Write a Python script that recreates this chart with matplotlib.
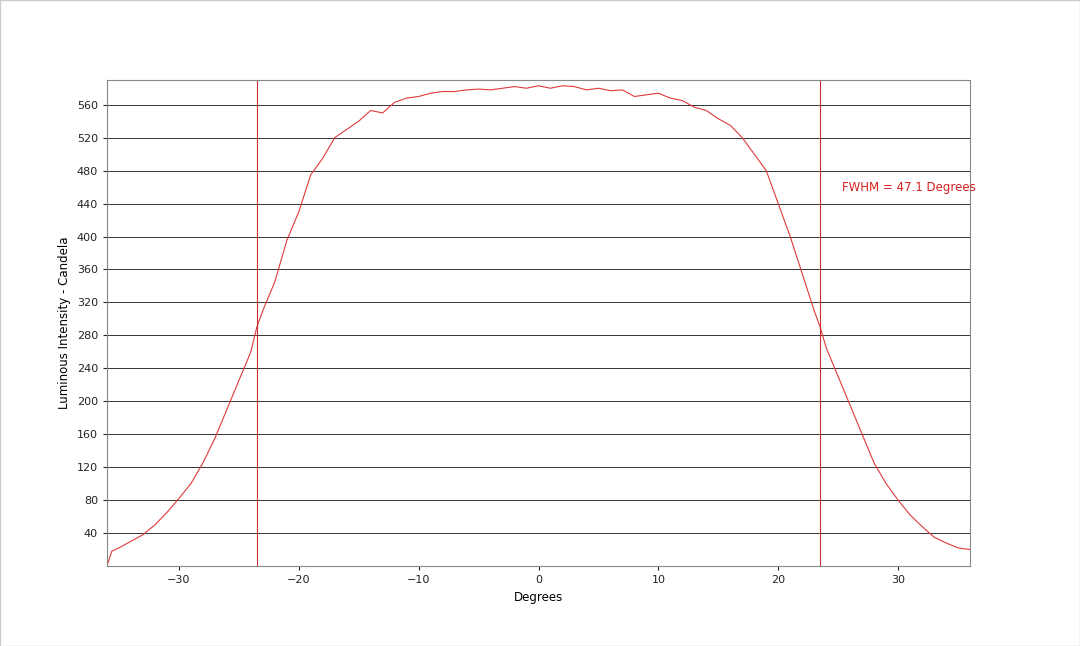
import matplotlib
matplotlib.use("Agg")
import matplotlib.pyplot as plt

deg = [-36, -35.6, -35, -34, -33, -32, -31, -30, -29, -28, -27, -26, -25, -24, -23.5, -23, -22, -21, -20, -19, -18, -17, -16, -15, -14, -13, -12, -11, -10, -9, -8, -7, -6, -5, -4, -3, -2, -1, 0, 1, 2, 3, 4, 5, 6, 7, 8, 9, 10, 11, 12, 13, 14, 15, 16, 17, 18, 19, 20, 21, 22, 23, 23.5, 24, 25, 26, 27, 28, 29, 30, 31, 32, 33, 34, 35, 36]
cd = [0, 18, 22, 30, 38, 50, 65, 82, 100, 125, 155, 190, 225, 260, 290, 310, 345, 395, 430, 475, 495, 520, 530, 540, 553, 550, 563, 568, 570, 574, 576, 576, 578, 579, 578, 580, 582, 580, 583, 580, 583, 582, 578, 580, 577, 578, 570, 572, 574, 568, 565, 557, 553, 543, 535, 520, 500, 480, 440, 400, 355, 310, 290, 265, 230, 195, 160, 125, 100, 80, 62, 48, 35, 28, 22, 20]
fwhm_edges = [-23.47, 23.47]
yticks = list(range(40, 561, 40))
xticks = [-30, -20, -10, 0, 10, 20, 30]

fig = plt.figure(figsize=(10.8, 6.46), dpi=100)
fig.patches.append(plt.Rectangle((0, 0), 1, 1, transform=fig.transFigure,
                                 fill=False, edgecolor="#cccccc", lw=1))
ax = fig.add_axes([107/1080, 1-566/646, 863/1080, 486/646])
ax.plot(deg, cd, color="#e0393b", lw=0.8)
for e in fwhm_edges:
    ax.axvline(e, color="#c83030", lw=0.8)
ax.set_xlim(-36, 36)
ax.set_ylim(0, 590)
ax.set_yticks(yticks)
ax.set_xticks(xticks)
ax.yaxis.grid(True, color="#333333", lw=0.7)
ax.set_axisbelow(True)
for s in ax.spines.values():
    s.set_color("#888888")
ax.tick_params(labelsize=8, colors="#222222", length=3)
ax.set_xlabel("Degrees", fontsize=8.5)
ax.set_ylabel("Luminous Intensity - Candela", fontsize=8.5)
ax.text(25.3, 460, "FWHM = 47.1 Degrees", color="#d42020", fontsize=8.5, va="center")
fig.savefig("out.png", dpi=100)
